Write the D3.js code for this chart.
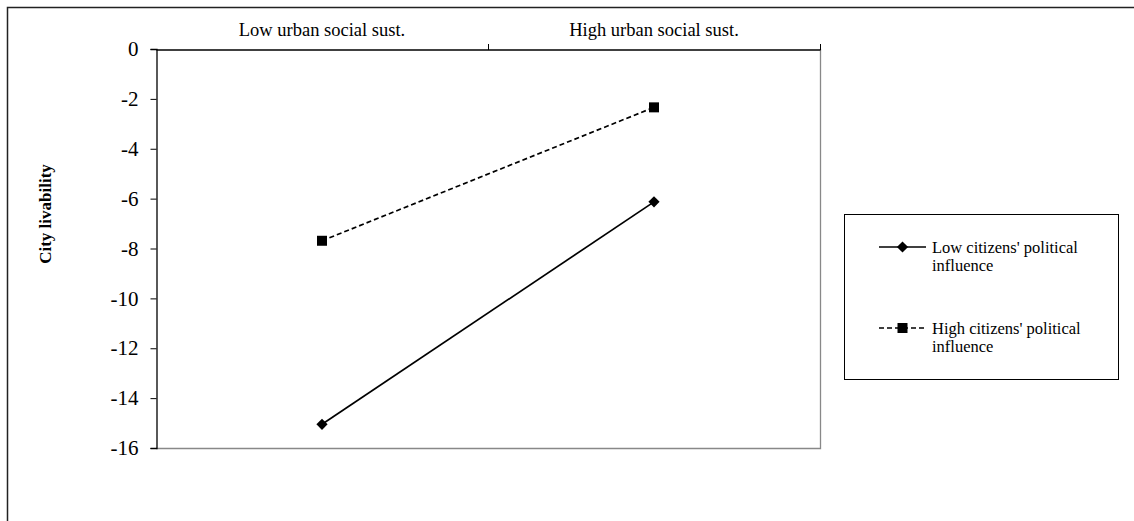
<!DOCTYPE html>
<html>
<head>
<meta charset="utf-8">
<script src="https://cdn.jsdelivr.net/npm/d3@7"></script>
<style>
  body { margin: 0; background: #fff; }
  svg { display: block; font-family: "Liberation Serif", "Times New Roman", serif; }
</style>
</head>
<body>
<div id="chart"></div>
<script>
const categories = ["Low urban social sust.", "High urban social sust."];
const seriesNames = ["Low citizens' political influence", "High citizens' political influence"];
const lowInfluence = [-15.05, -6.13];
const highInfluence = [-7.69, -2.34];
const yTicks = [0, -2, -4, -6, -8, -10, -12, -14, -16];

const width = 1134, height = 521;
const plot = { left: 156, right: 820, top: 49, bottom: 448 };

const svg = d3.select("#chart").append("svg")
    .attr("width", width)
    .attr("height", height);

// outer frame (runs off the right and bottom of the picture)
svg.append("path")
    .attr("d", `M7.5,${height + 5} V7.5 H${width + 5}`)
    .attr("fill", "none")
    .attr("stroke", "#222")
    .attr("stroke-width", 1.5);

const x = d3.scaleBand()
    .domain(categories)
    .range([plot.left, plot.right]);

const y = d3.scaleLinear()
    .domain([-16, 0])
    .range([plot.bottom, plot.top]);

// plot area border (grey right/bottom)
svg.append("path")
    .attr("d", `M${plot.left},${plot.bottom + 0.5} H${plot.right + 0.5} V${plot.top}`)
    .attr("fill", "none")
    .attr("stroke", "#888")
    .attr("stroke-width", 1.3);

// left value axis
const yAxis = svg.append("g")
    .attr("transform", `translate(${plot.left + 0.5},0)`)
    .call(d3.axisLeft(y).tickValues(yTicks).tickSize(6).tickPadding(12).tickFormat(d3.format("d")));
yAxis.select(".domain").attr("stroke", "#000").attr("stroke-width", 1.3);
yAxis.selectAll(".tick line").attr("stroke", "#000");
yAxis.selectAll(".tick text")
    .attr("font-family", "Liberation Serif, serif")
    .attr("font-size", 21)
    .attr("fill", "#000")
    .text(d => d === 0 ? "0" : "-" + Math.abs(d));

// top category axis
const xAxis = svg.append("g")
    .attr("transform", `translate(0,${plot.top + 0.5})`)
    .call(d3.axisTop(x).tickSize(0).tickPadding(14));
xAxis.select(".domain").attr("stroke", "#000").attr("stroke-width", 1.3);
xAxis.selectAll(".tick text")
    .attr("font-family", "Liberation Serif, serif")
    .attr("font-size", 18.5)
    .attr("fill", "#000");

// boundary ticks between categories
const bounds = categories.map(c => x(c)).slice(1).concat([x.range()[1]]);
svg.append("g").selectAll("line")
    .data(bounds)
    .enter()
    .append("line")
    .attr("x1", d => d + 0.5)
    .attr("x2", d => d + 0.5)
    .attr("y1", plot.top - 5)
    .attr("y2", plot.top + 1)
    .attr("stroke", "#000");

// y axis title
svg.append("text")
    .attr("transform", `translate(51,214) rotate(-90)`)
    .attr("text-anchor", "middle")
    .attr("font-size", 17)
    .attr("font-weight", "bold")
    .text("City livability");

const cx = c => x(c) + x.bandwidth() / 2;
const line = d3.line()
    .x((d, i) => cx(categories[i]))
    .y(d => y(d));

const diamond = d3.symbol().type(d3.symbolDiamond2).size(80);
const square = d3.symbol().type(d3.symbolSquare).size(100);

const series = [
    { name: seriesNames[0], values: lowInfluence, dash: null, sym: diamond },
    { name: seriesNames[1], values: highInfluence, dash: "5,3", sym: square }
];

series.forEach(s => {
    svg.append("path")
        .datum(s.values)
        .attr("d", line)
        .attr("fill", "none")
        .attr("stroke", "#000")
        .attr("stroke-width", 1.7)
        .attr("stroke-dasharray", s.dash);
    svg.append("g").selectAll("path")
        .data(s.values)
        .enter()
        .append("path")
        .attr("d", s.sym)
        .attr("transform", (d, i) => `translate(${cx(categories[i])},${y(d)})`)
        .attr("fill", "#000");
});

// legend
const legend = svg.append("g");
legend.append("rect")
    .attr("x", 844.5)
    .attr("y", 214.5)
    .attr("width", 274)
    .attr("height", 165)
    .attr("fill", "#fff")
    .attr("stroke", "#000")
    .attr("stroke-width", 1);

const legendRows = [247, 328];
series.forEach((s, i) => {
    const ly = legendRows[i];
    legend.append("line")
        .attr("x1", 879).attr("x2", 926)
        .attr("y1", ly).attr("y2", ly)
        .attr("stroke", "#000")
        .attr("stroke-width", 1.6)
        .attr("stroke-dasharray", s.dash);
    legend.append("path")
        .attr("d", s.sym)
        .attr("transform", `translate(902.5,${ly})`)
        .attr("fill", "#000");
    const words = s.name.split(" ");
    const t = legend.append("text")
        .attr("x", 932)
        .attr("y", ly + 6)
        .attr("font-size", 16.5);
    t.append("tspan").attr("x", 932).text(words.slice(0, 3).join(" "));
    t.append("tspan").attr("x", 932).attr("dy", 18).text(words.slice(3).join(" "));
});
</script>
</body>
</html>
